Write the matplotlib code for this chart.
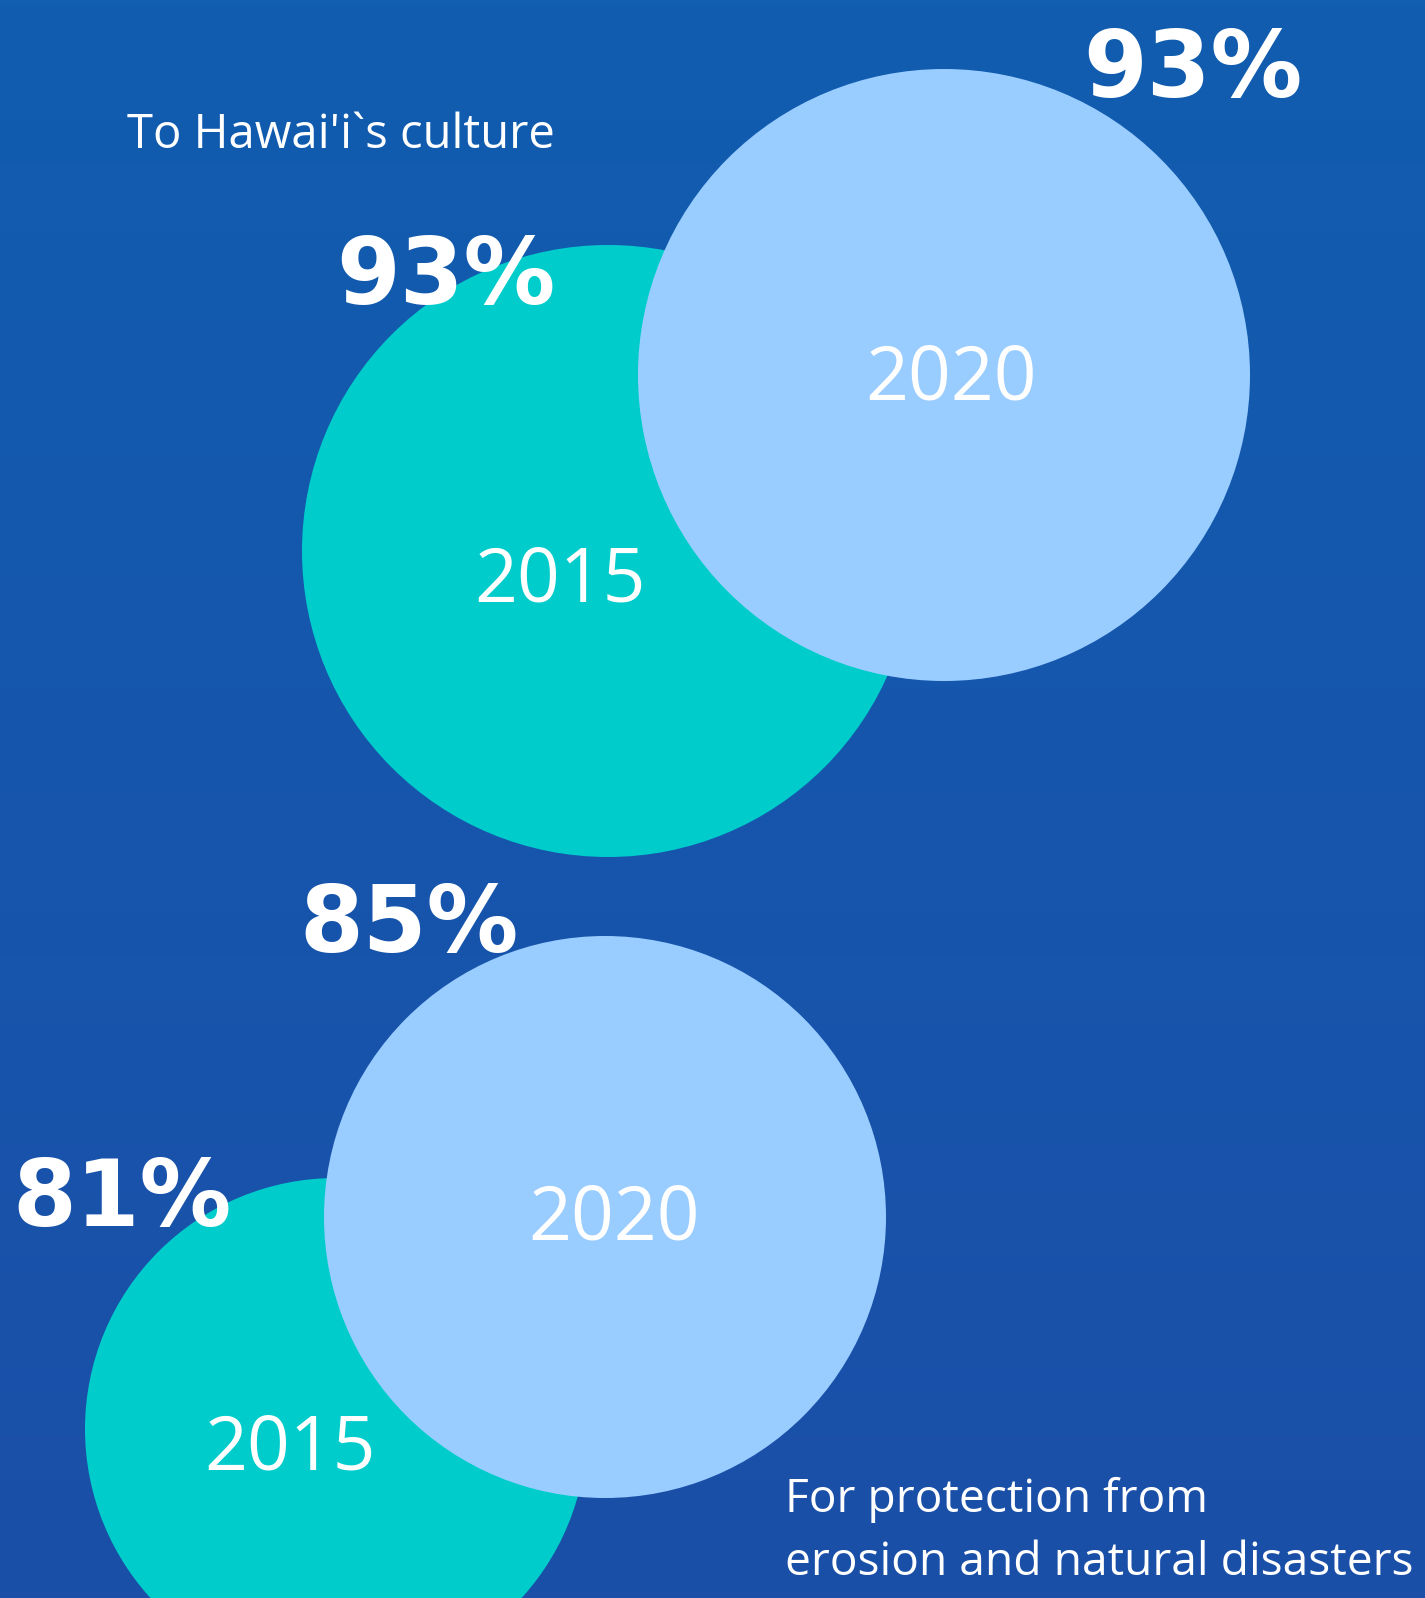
import numpy as np
import matplotlib.pyplot as plt
from matplotlib.patches import Circle

# share of respondents, per topic and survey year
topics = [["To Hawai'i`s culture"], ["For protection from", "erosion and natural disasters"]]
years = ["2015", "2020"]
pct_2015 = [93, 81]
pct_2020 = [93, 85]

W, H = 1425, 1598
fig = plt.figure(figsize=(W / 100, H / 100), dpi=100)
ax = fig.add_axes([0, 0, 1, 1])
ax.set_xlim(0, W)
ax.set_ylim(H, 0)
ax.axis("off")

# background: slight vertical gradient
top = np.array([17, 93, 176]) / 255
bot = np.array([27, 79, 168]) / 255
t = np.linspace(0, 1, 256)[:, None, None]
grad = top * (1 - t) + bot * t
ax.imshow(grad, extent=(0, W, H, 0), aspect="auto", zorder=0)

teal = "#00cccc"
sky = "#99ccff"

# circle layout (center x, center y, radius) for each group
layout = [
    {"c15": (608, 551, 306), "c20": (944, 375, 306),
     "lab15": (560, 601), "lab20": (951, 400),
     "p15": (336, 304), "p20": (1083, 97),
     "title": (127, 148), "tsize": 34},
    {"c15": (336, 1429, 251), "c20": (605, 1217, 281),
     "lab15": (290, 1470), "lab20": (614, 1240),
     "p15": (12, 1226), "p20": (299, 952),
     "title": (785, 1512), "tsize": 33.2},
]

num_font = dict(family="DejaVu Sans", weight="bold", fontsize=66, color="white")
yr_font = dict(family="Open Sans", fontsize=54, color="white")
line_gap = 63

for i, lay in enumerate(layout):
    x, y, r = lay["c15"]
    ax.add_patch(Circle((x, y), r, color=teal, lw=0, zorder=1))
    x, y, r = lay["c20"]
    ax.add_patch(Circle((x, y), r, color=sky, lw=0, zorder=2))

    ax.text(*lay["lab15"], years[0], ha="center", va="baseline", zorder=3, **yr_font)
    ax.text(*lay["lab20"], years[1], ha="center", va="baseline", zorder=3, **yr_font)

    ax.text(*lay["p15"], f"{pct_2015[i]}%", ha="left", va="baseline", zorder=4, **num_font)
    ax.text(*lay["p20"], f"{pct_2020[i]}%", ha="left", va="baseline", zorder=4, **num_font)

    tx, ty = lay["title"]
    for k, line in enumerate(topics[i]):
        ax.text(tx, ty + k * line_gap, line, ha="left", va="baseline", zorder=4,
                family="Open Sans", fontsize=lay["tsize"], color="white")

fig.savefig("out.png", dpi=100)
